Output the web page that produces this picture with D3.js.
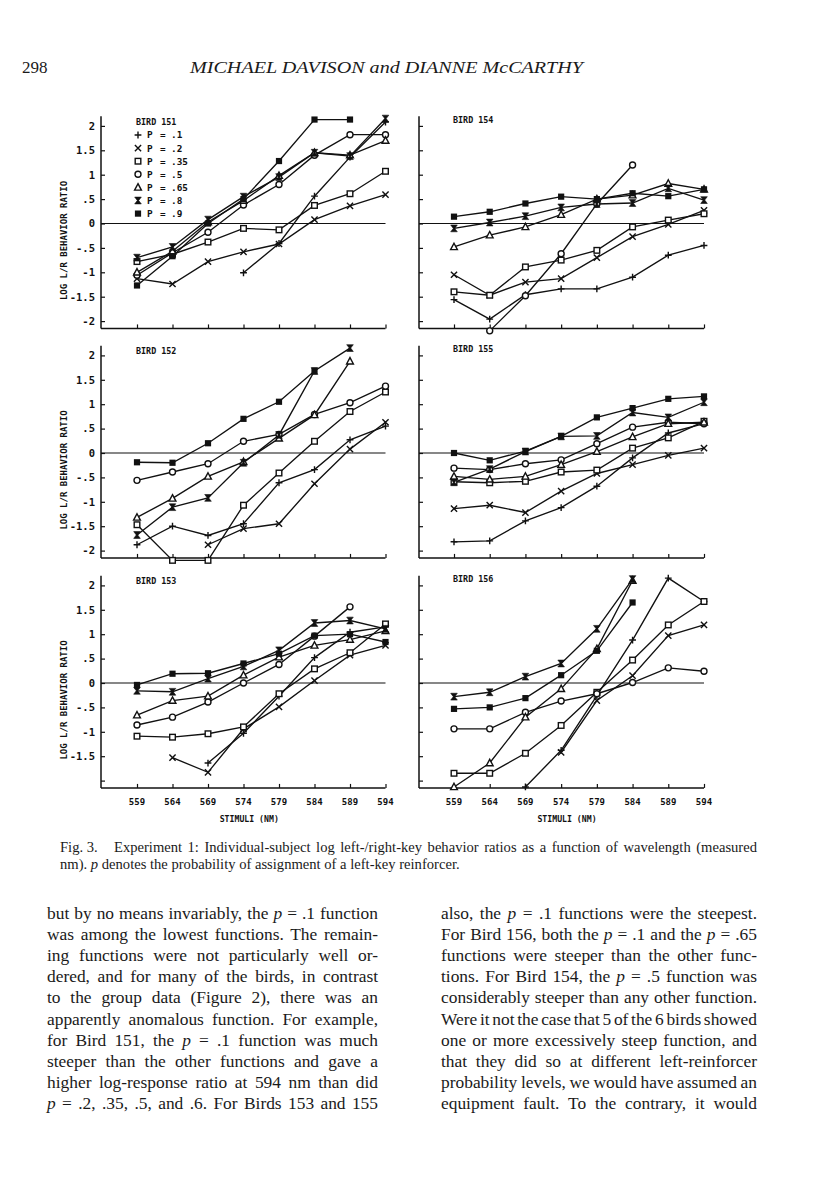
<!DOCTYPE html>
<html><head><meta charset="utf-8">
<script src="https://cdn.jsdelivr.net/npm/d3@7"></script>
<style>
body{margin:0;background:#fff;}
svg{display:block;}
.plot{font-family:"DejaVu Sans Mono","Liberation Mono",monospace;font-weight:bold;fill:#111;}
.serif{font-family:"Liberation Serif","Times New Roman",serif;fill:#1a1a1a;}
</style></head><body>
<svg id="page" width="816" height="1193"></svg>
<script>
// ---------- data ----------
const stimuli = [559, 564, 569, 574, 579, 584, 589, 594];
const pLabels = [".1", ".2", ".35", ".5", ".65", ".8", ".9"];
const markerTypes = ["plus", "cross", "square", "circle", "triangle", "hourglass", "filledSquare"];
const yTickValues = [-2, -1.5, -1, -0.5, 0, 0.5, 1, 1.5, 2];
const yTickLabels = ["-2", "-1.5", "-1", "-.5", "0", ".5", "1", "1.5", "2"];
const birdNames = ["BIRD 151", "BIRD 154", "BIRD 152", "BIRD 155", "BIRD 153", "BIRD 156"];

// series order: p=.1, .2, .35, .5, .65, .8, .9
const bird151 = [
  [null, null, null, -1.01, -0.41, 0.56, 1.36, 2.08],
  [-1.13, -1.24, -0.78, -0.58, -0.42, 0.08, 0.36, 0.59],
  [-0.78, -0.63, -0.38, -0.10, -0.13, 0.37, 0.61, 1.07],
  [-1.06, -0.60, -0.18, 0.38, 0.80, 1.40, 1.82, 1.82],
  [-1.00, -0.57, 0.03, 0.47, 0.98, 1.45, 1.40, 1.70],
  [-0.70, -0.48, 0.08, 0.55, 0.95, 1.45, 1.38, 2.15],
  [-1.27, -0.67, 0.00, 0.50, 1.28, 2.13, 2.13, null]
];
const bird154 = [
  [-1.56, -1.96, -1.46, -1.34, -1.34, -1.10, -0.65, -0.45],
  [-1.05, -1.47, -1.20, -1.13, -0.70, -0.27, -0.02, 0.27],
  [-1.40, -1.47, -0.89, -0.75, -0.55, -0.07, 0.07, 0.20],
  [null, -2.20, -1.48, -0.62, 0.40, 1.20, null, null],
  [-0.48, -0.24, -0.07, 0.18, 0.50, 0.58, 0.82, 0.70],
  [-0.10, 0.02, 0.15, 0.33, 0.40, 0.42, 0.72, 0.48],
  [0.14, 0.24, 0.41, 0.55, 0.50, 0.62, 0.56, 0.70]
];
const bird152 = [
  [-1.88, -1.50, -1.69, -1.45, -0.61, -0.34, 0.27, 0.55],
  [null, null, -1.88, -1.55, -1.45, -0.63, 0.08, 0.63],
  [-1.47, -2.20, -2.20, -1.07, -0.41, 0.24, 0.85, 1.25],
  [-0.56, -0.39, -0.22, 0.24, 0.38, 0.79, 1.03, 1.37],
  [-1.32, -0.93, -0.48, -0.18, 0.30, 0.78, 1.88, null],
  [-1.68, -1.11, -0.92, -0.20, 0.37, 1.68, 2.15, null],
  [-0.19, -0.20, 0.20, 0.70, 1.05, 1.68, null, null]
];
const bird155 = [
  [-1.82, -1.80, -1.39, -1.12, -0.68, -0.10, 0.41, 0.60],
  [-1.14, -1.07, -1.22, -0.78, -0.42, -0.24, -0.05, 0.10],
  [-0.59, -0.61, -0.58, -0.39, -0.35, 0.10, 0.31, 0.65],
  [-0.31, -0.34, -0.22, -0.14, 0.19, 0.53, 0.63, 0.60],
  [-0.48, -0.54, -0.48, -0.24, 0.03, 0.33, 0.60, 0.63],
  [-0.60, -0.33, 0.03, 0.34, 0.35, 0.83, 0.73, 1.04],
  [0.00, -0.15, 0.04, 0.34, 0.73, 0.92, 1.11, 1.16]
];
const bird153 = [
  [null, null, -1.64, -1.03, -0.27, 0.52, 1.04, 1.15],
  [null, -1.53, -1.83, -0.94, -0.49, 0.05, 0.57, 0.77],
  [-1.09, -1.11, -1.04, -0.90, -0.22, 0.29, 0.62, 1.21],
  [-0.86, -0.70, -0.39, 0.00, 0.38, 0.96, 1.56, null],
  [-0.66, -0.36, -0.27, 0.16, 0.53, 0.77, 0.89, 1.07],
  [-0.16, -0.18, 0.09, 0.34, 0.67, 1.23, 1.28, 1.11],
  [-0.04, 0.19, 0.20, 0.40, 0.60, 0.97, 1.00, 0.84]
];
const bird156 = [
  [null, null, -2.13, -1.38, -0.26, 0.88, 2.15, 1.67],
  [null, null, null, -1.42, -0.36, 0.15, 0.97, 1.19],
  [-1.85, -1.85, -1.44, -0.87, -0.19, 0.47, 1.19, 1.67],
  [-0.94, -0.94, -0.60, -0.37, -0.22, 0.01, 0.31, 0.24],
  [-2.13, -1.64, -0.70, -0.12, 0.70, 2.10, null, null],
  [-0.28, -0.19, 0.13, 0.40, 1.11, 2.13, null, null],
  [-0.53, -0.50, -0.31, 0.16, 0.66, 1.65, null, null]
];
const birdData = [bird151, bird154, bird152, bird155, bird153, bird156];

const headerPage = "298";
const headerTitle = "MICHAEL DAVISON and DIANNE McCARTHY";
const captionLabel = "Fig. 3.";
const captionLine1 = "Experiment 1: Individual-subject log left-/right-key behavior ratios as a function of wavelength (measured";
const captionLine2 = "nm). *p* denotes the probability of assignment of a left-key reinforcer.";
const bodyLeft = [
  "but by no means invariably, the *p* = .1 function",
  "was among the lowest functions. The remain-",
  "ing functions were not particularly well or-",
  "dered, and for many of the birds, in contrast",
  "to the group data (Figure 2), there was an",
  "apparently anomalous function. For example,",
  "for Bird 151, the *p* = .1 function was much",
  "steeper than the other functions and gave a",
  "higher log-response ratio at 594 nm than did",
  "*p* = .2, .35, .5, and .6. For Birds 153 and 155"
];
const bodyRight = [
  "also, the *p* = .1 functions were the steepest.",
  "For Bird 156, both the *p* = .1 and the *p* = .65",
  "functions were steeper than the other func-",
  "tions. For Bird 154, the *p* = .5 function was",
  "considerably steeper than any other function.",
  "Were it not the case that 5 of the 6 birds showed",
  "one or more excessively steep function, and",
  "that they did so at different left-reinforcer",
  "probability levels, we would have assumed an",
  "equipment fault. To the contrary, it would"
];

// ---------- layout ----------
const svg = d3.select("#page");
const cols = [{axisX: 101, x0: 137, x1: 385.5}, {axisX: 419, x0: 454, x1: 704}];
const rows = [{zero: 223.5}, {zero: 453}, {zero: 683}];
const unit = 48.8;
const yMin = -2.15, yMax = 2.2;

function drawMarker(g, type, cx, cy) {
  const s = g.append("g").attr("transform", `translate(${cx},${cy})`);
  const sw = 1.4;
  switch (type) {
    case "plus":
      s.append("path").attr("d", "M-3.4,0H3.4M0,-3.4V3.4").attr("stroke", "#111").attr("stroke-width", sw).attr("fill", "none"); break;
    case "cross":
      s.append("path").attr("d", "M-3.1,-3.1L3.1,3.1M-3.1,3.1L3.1,-3.1").attr("stroke", "#111").attr("stroke-width", sw).attr("fill", "none"); break;
    case "square":
      s.append("rect").attr("x", -2.8).attr("y", -2.8).attr("width", 5.6).attr("height", 5.6).attr("fill", "#fff").attr("stroke", "#111").attr("stroke-width", 1.4); break;
    case "circle":
      s.append("circle").attr("r", 3).attr("fill", "#fff").attr("stroke", "#111").attr("stroke-width", 1.4); break;
    case "triangle":
      s.append("path").attr("d", "M0,-3.7L3.4,2.7H-3.4Z").attr("fill", "#fff").attr("stroke", "#111").attr("stroke-width", 1.4); break;
    case "hourglass":
      s.append("path").attr("d", "M-3.3,-3.4H3.3L0.7,0L3.3,3.4H-3.3L-0.7,0Z").attr("fill", "#111").attr("stroke", "#111").attr("stroke-width", 0.6); break;
    case "filledSquare":
      s.append("rect").attr("x", -3.1).attr("y", -3.1).attr("width", 6.2).attr("height", 6.2).attr("fill", "#111"); break;
  }
}

birdData.forEach((series, idx) => {
  const c = cols[idx % 2], r = rows[Math.floor(idx / 2)];
  const g = svg.append("g");
  const x = d3.scaleLinear().domain([559, 594]).range([c.x0, c.x1]);
  const y = d3.scaleLinear().domain([yMin, yMax]).range([r.zero - yMin * unit, r.zero - yMax * unit]);
  const bottom = y(yMin);

  // y axis
  const yAxis = d3.axisRight(y).tickValues(yTickValues).tickSize(4).tickFormat("");
  const ya = g.append("g").attr("transform", `translate(${c.axisX},0)`).call(yAxis);
  ya.select(".domain").attr("d", `M0,${y(yMax)}V${bottom}`).attr("stroke", "#111").attr("stroke-width", 1.5);
  ya.selectAll(".tick line").attr("stroke", "#111").attr("stroke-width", 1.2);

  // y tick labels (left column only)
  if (idx % 2 === 0) {
    yTickValues.forEach((v, i) => {
      if (idx === 4 && v === -2) return;
      g.append("text").attr("class", "plot").attr("x", c.axisX - 6).attr("y", y(v) + 3.8)
        .attr("text-anchor", "end").attr("font-size", 10.5).text(yTickLabels[i]);
    });
    g.append("text").attr("class", "plot").attr("font-size", 9)
      .attr("transform", `translate(${c.axisX - 34},${r.zero + 17}) rotate(-90)`)
      .attr("text-anchor", "middle").text("LOG L/R BEHAVIOR RATIO");
  }

  // x axis
  const xAxis = d3.axisTop(x).tickValues(stimuli).tickSize(4).tickFormat("");
  const xa = g.append("g").attr("transform", `translate(0,${bottom})`).call(xAxis);
  xa.select(".domain").attr("d", `M${c.axisX},0H${x(594)}`).attr("stroke", "#111").attr("stroke-width", 1.5);
  xa.selectAll(".tick line").attr("stroke", "#111").attr("stroke-width", 1.2);

  if (idx >= 4) {
    stimuli.forEach(s => {
      g.append("text").attr("class", "plot").attr("x", x(s)).attr("y", bottom + 17)
        .attr("text-anchor", "middle").attr("font-size", 9).text(String(s));
    });
    g.append("text").attr("class", "plot").attr("x", (c.x0 + c.x1) / 2 - 12).attr("y", bottom + 34)
      .attr("text-anchor", "middle").attr("font-size", 8.2).text("STIMULI (NM)");
  }

  // zero line
  g.append("line").attr("x1", c.axisX).attr("x2", x(594)).attr("y1", y(0)).attr("y2", y(0))
    .attr("stroke", "#111").attr("stroke-width", 1.2);

  // bird label
  g.append("text").attr("class", "plot").attr("x", c.x0 - 1).attr("y", y(2) + (idx % 2 === 0 ? -1 : -3))
    .attr("font-size", 8.4).text(birdNames[idx]);

  // lines
  const line = d3.line().defined(d => d != null).x((d, i) => x(stimuli[i])).y(d => y(d));
  series.forEach(vals => {
    g.append("path").datum(vals).attr("d", line).attr("fill", "none")
      .attr("stroke", "#111").attr("stroke-width", 1.35);
  });
  // markers
  series.forEach((vals, si) => {
    vals.forEach((v, i) => {
      if (v == null) return;
      drawMarker(g, markerTypes[si], x(stimuli[i]), y(v));
    });
  });

  // legend (Bird 151)
  if (idx === 0) {
    pLabels.forEach((p, i) => {
      const ly = 135 + i * 13.1;
      drawMarker(g, markerTypes[i], c.x0 + 1, ly);
      g.append("text").attr("class", "plot").attr("x", 147).attr("y", ly + 3.4).attr("font-size", 9.4).text("P");
      g.append("text").attr("class", "plot").attr("x", 160).attr("y", ly + 3.4).attr("font-size", 9.4).text("=");
      g.append("text").attr("class", "plot").attr("x", 171).attr("y", ly + 3.4).attr("font-size", 9.4).text(p);
    });
  }
});

// ---------- page text ----------
svg.append("text").attr("class", "serif").attr("x", 22).attr("y", 73).attr("font-size", 17).text(headerPage);
svg.append("text").attr("class", "serif").attr("x", 190).attr("y", 73).attr("font-size", 16)
  .attr("font-style", "italic").attr("textLength", 393).attr("lengthAdjust", "spacingAndGlyphs").text(headerTitle);

function richText(sel, str) {
  str.split(/(\*p\*)/).forEach(part => {
    if (part === "") return;
    if (part === "*p*") sel.append("tspan").attr("font-style", "italic").text("p");
    else sel.append("tspan").text(part);
  });
}
function justify(t, width) {
  const w = t.node().getComputedTextLength();
  const spaces = (t.text().match(/ /g) || []).length;
  if (spaces > 0) t.attr("word-spacing", ((width - w) / spaces).toFixed(3));
}

svg.append("text").attr("class", "serif").attr("x", 60).attr("y", 852).attr("font-size", 14.6).text(captionLabel);
const cap1 = svg.append("text").attr("class", "serif").attr("x", 114).attr("y", 852).attr("font-size", 14.6);
richText(cap1, captionLine1); justify(cap1, 757 - 114);
const cap2 = svg.append("text").attr("class", "serif").attr("x", 60).attr("y", 869).attr("font-size", 14.6);
richText(cap2, captionLine2);

const lineGap = 21.1;
bodyLeft.forEach((l, i) => {
  const t = svg.append("text").attr("class", "serif").attr("x", 47).attr("y", 919 + i * lineGap).attr("font-size", 17.4);
  richText(t, l); justify(t, 378 - 47);
});
bodyRight.forEach((l, i) => {
  const t = svg.append("text").attr("class", "serif").attr("x", 441).attr("y", 919 + i * lineGap).attr("font-size", 17.4);
  richText(t, l); justify(t, 757 - 441);
});
</script>
</body></html>
